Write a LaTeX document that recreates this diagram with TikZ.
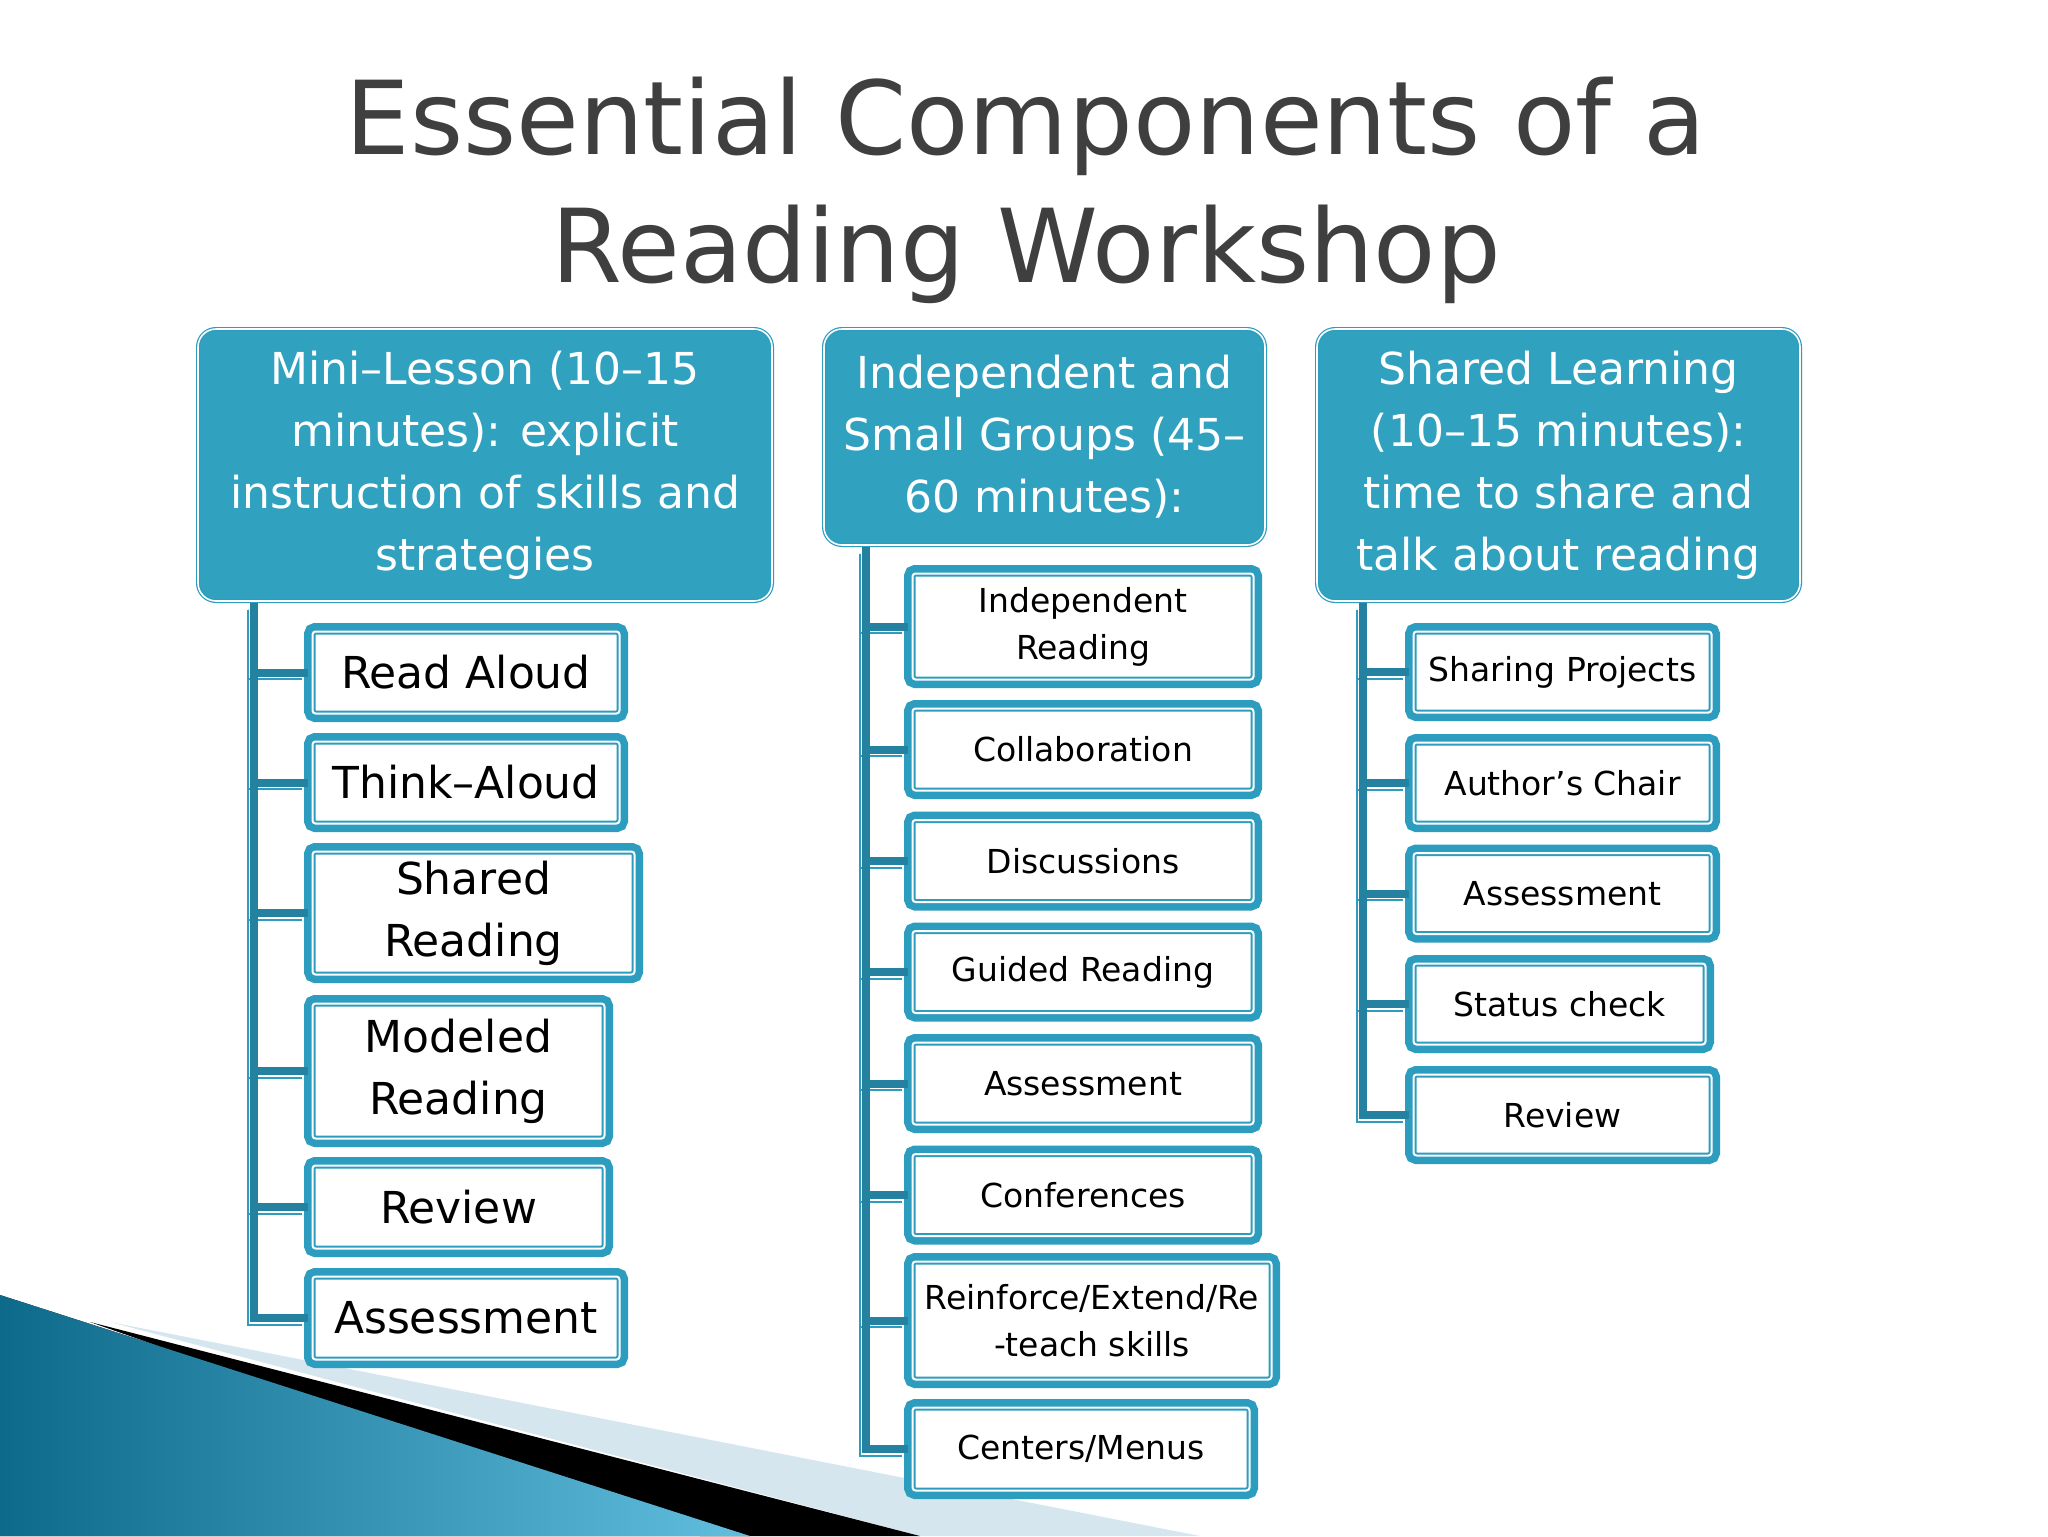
\documentclass[tikz,border=0pt]{standalone}
\usepackage{fontspec}
\setmainfont{DejaVu Sans}
\usepackage{tikz}
\usetikzlibrary{calc}

\definecolor{BoxTeal}{HTML}{2C9DBE}
\definecolor{HeadTeal}{HTML}{31A1C0}
\definecolor{StemTeal}{HTML}{24819F}
\definecolor{TitleGrey}{HTML}{3F3F3F}
\definecolor{SwooshPale}{HTML}{D5E6EF}
\definecolor{SwooshDark}{HTML}{0D6A8A}
\definecolor{SwooshLight}{HTML}{62BEDF}

\tikzset{
  head/.style={rectangle,rounded corners=9pt,fill=HeadTeal,draw=BoxTeal,
    double=white,line width=0.6pt,double distance=0.8pt,outer sep=0pt,
    text=white,align=center,font=\fontsize{22}{31}\selectfont},
  part/.style={rectangle,rounded corners=1.5pt,fill=white,draw=BoxTeal,
    double=white,line width=1pt,double distance=1pt,outer sep=0pt,inner sep=2pt,
    preaction={draw=BoxTeal,line width=8.5pt},anchor=west,align=center},
  big/.style={font=\fontsize{22}{31}\selectfont},
  small/.style={font=\fontsize{16.5}{23.5}\selectfont},
  stem/.style={draw=StemTeal,line width=4pt,shorten <=1pt,shorten >=2.25pt},
  stemline/.style={draw=BoxTeal,line width=1pt,shorten <=1pt,shorten >=2.25pt}
}

\begin{document}
\begin{tikzpicture}[x=0.5pt,y=-0.5pt]
  \path[use as bounding box,fill=white] (0,0) rectangle (2048,1536);
  % corner swoosh
  \fill[SwooshPale] (110,1322) -- (1200,1536) -- (920,1536) -- cycle;
  \fill[black] (90,1322) -- (920,1536) -- (700,1536) -- cycle;
  \fill[left color=SwooshDark,right color=SwooshLight]
    (0,1295) -- (750,1536) -- (0,1536) -- cycle;

  \node[font=\fontsize{51}{64}\selectfont,text=TitleGrey,align=center,inner sep=0pt]
    (title) at (1026,190) {Essential Components of a\\Reading Workshop};

  \node[head,minimum width=287pt,minimum height=136pt] (ha) at (485,465)
    {Mini–Lesson (10–15\\minutes): explicit\\instruction of skills and\\strategies};
  \node[head,minimum width=220.5pt,minimum height=108pt] (hb) at (1044.5,437)
    {Independent and\\Small Groups (45–\\60 minutes):};
  \node[head,minimum width=241.5pt,minimum height=136pt] (hc) at (1558.5,465)
    {Shared Learning\\(10–15 minutes):\\time to share and\\talk about reading};

  \coordinate (ta) at (254,0); \coordinate (tb) at (866,0); \coordinate (tc) at (1363,0);

  \foreach \i/\y/\w/\h/\txt in {1/672.5/153.5/41/Read Aloud,2/782.5/153.5/41/Think–Aloud,
      3/913/161/61.5/Shared\\Reading,4/1071/146/67.5/Modeled\\Reading,
      5/1207/146/41.5/Review,6/1318/153.5/41.5/Assessment}{
    \node[part,big,minimum width=\w pt,minimum height=\h pt] (a\i) at (312.5,\y) {\txt};
    \draw[stemline] ($(ha.south -| ta)+(-6.5,6.5)$) |- ($(a\i.west)+(-6.5,6.5)$);
    \draw[stem] (ha.south -| ta) |- (a\i.west);
  }

  \foreach \i/\y/\w/\h/\txt in {1/626.5/170.5/53/Independent\\Reading,2/749.5/170.5/41/Collaboration,
      3/861/170.5/41/Discussions,4/972/170.5/41/Guided Reading,5/1083.5/170.5/41/Assessment,
      6/1195/170.5/41/Conferences,7/1320.5/179.5/59/{Reinforce/Extend/Re\\-teach skills},
      8/1449/168.5/41.5/{Centers/Menus}}{
    \node[part,small,minimum width=\w pt,minimum height=\h pt] (b\i) at (912.5,\y) {\txt};
    \draw[stemline] ($(hb.south -| tb)+(-6.5,6.5)$) |- ($(b\i.west)+(-6.5,6.5)$);
    \draw[stem] (hb.south -| tb) |- (b\i.west);
  }

  \foreach \i/\y/\w/\txt in {1/672/149/Sharing Projects,2/783/149/Author’s Chair,
      3/893.5/149/Assessment,4/1004/146/Status check,5/1115/149/Review}{
    \node[part,small,minimum width=\w pt,minimum height=40.5pt] (c\i) at (1413.5,\y) {\txt};
    \draw[stemline] ($(hc.south -| tc)+(-6.5,6.5)$) |- ($(c\i.west)+(-6.5,6.5)$);
    \draw[stem] (hc.south -| tc) |- (c\i.west);
  }
\end{tikzpicture}
\end{document}
